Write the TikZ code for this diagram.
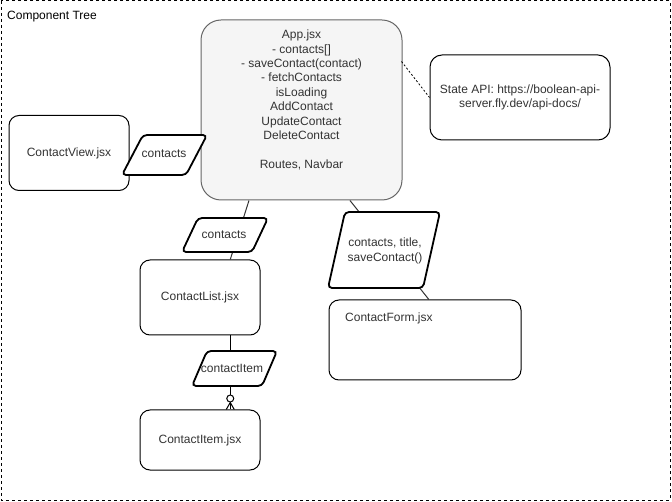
\documentclass[tikz,border=0pt]{standalone}
\usepackage{fontspec}
\setmainfont{Liberation Sans}
\usetikzlibrary{calc}
\definecolor{txt}{HTML}{333333}
\definecolor{appfill}{HTML}{F5F5F5}
\definecolor{appline}{HTML}{666666}
\newcommand{\pgram}[5]{% cx cy w h slant
  \path[pedge] ({#1-#3/2+#5},{#2-#4/2}) -- ({#1+#3/2},{#2-#4/2}) -- ({#1+#3/2-#5},{#2+#4/2}) -- ({#1-#3/2},{#2+#4/2}) -- cycle;}
\begin{document}
\begin{tikzpicture}[x=1pt,y=-1pt,font=\fontsize{12}{14.4}\selectfont,
  box/.style={draw=black,line width=1pt,rounded corners=10pt,fill=white,text=txt,align=center,inner sep=0pt},
  lbl/.style={text=txt,align=center,inner sep=0pt},
  pedge/.style={draw=black,line width=1.8pt,rounded corners=4pt,fill=white},
  conn/.style={draw=txt,line width=1pt}]
\useasboundingbox (0,0) rectangle (672,502);
\draw[line width=1pt,dash pattern=on 3pt off 3pt] (1,1) rectangle (670,500);
\node[anchor=west,inner sep=0pt] (title) at (7,17) {Component Tree};

% boxes
\node[box,draw=appline,fill=appfill,rounded corners=20pt,minimum width=201pt,minimum height=180pt] (app) at (301.5,110) {};
\node[lbl] (apptext) at (301.5,100) {App.jsx\\- contacts[]\\- saveContact(contact)\\- fetchContacts\\isLoading\\AddContact\\UpdateContact\\DeleteContact\\[14.4pt]Routes, Navbar};
\node[box,minimum width=120pt,minimum height=75pt] (cview) at (69,153) {ContactView.jsx};
\node[box,minimum width=120pt,minimum height=75pt] (clist) at (200,297.5) {ContactList.jsx};
\node[box,minimum width=120pt,minimum height=60pt] (citem) at (200,440) {ContactItem.jsx};
\node[box,minimum width=192pt,minimum height=80pt] (cform) at (425,340) {};
\node[lbl,anchor=west] (cformtext) at (345,318) {ContactForm.jsx};
\node[box,rounded corners=12pt,minimum width=180pt,minimum height=85pt] (api) at (520,97.5) {State API: https://boolean-api-\\server.fly.dev/api-docs/};

% connectors
\draw[conn] ($(app.south west)!0.24!(app.south east)$) -- ($(clist.north west)!0.75!(clist.north east)$);
\draw[conn] ($(app.south west)!0.74!(app.south east)$) -- ($(cform.north west)!0.52!(cform.north east)$);
\draw[black,line width=0.8pt,dash pattern=on 2pt off 2pt] ($(app.north east)+(-1,42)$) -- (api.west);
\coordinate (ci) at ($(citem.north west)!0.75!(citem.north east)$);
\draw[black,line width=1pt] ($(clist.south west)!0.75!(clist.south east)$) -- (ci);
\draw[black,line width=1pt] ($(ci)+(-4,0)$) -- ($(ci)+(0,-7)$) -- ($(ci)+(4,0)$);
\draw[black,line width=1pt,fill=white] ($(ci)+(0,-11)$) circle (3.5pt);

% parallelogram labels
\pgram{164.5}{155}{85}{40}{21}
\node[lbl] (p1) at (164,154) {contacts};
\pgram{225}{235}{86}{34}{16}
\node[lbl] (p2) at (224,235) {contacts};
\pgram{384}{250}{112}{76}{17}
\node[lbl] (p3) at (385,251) {contacts, title,\\saveContact()};
\pgram{234.5}{368.5}{85}{35}{15}
\node[lbl] (p4) at (232,368) {contactItem};
\end{tikzpicture}
\end{document}
